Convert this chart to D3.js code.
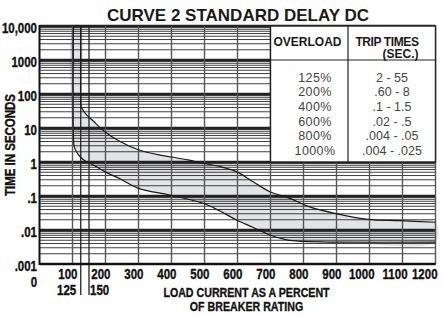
<!DOCTYPE html>
<html>
<head>
<meta charset="utf-8">
<script src="https://cdn.jsdelivr.net/npm/d3@7"></script>
<style>
  body { margin: 0; background: #fff; }
  .cond { font-family: "Liberation Sans", Arial, sans-serif; font-weight: bold; fill: #111; stroke: #111; stroke-width: 0.35px; }
  .title { font-family: "Liberation Sans", Arial, sans-serif; font-weight: bold; font-size: 17px; fill: #1a1a1a; }
  .thead { font-family: "Liberation Sans", Arial, sans-serif; font-weight: bold; font-size: 12px; fill: #1a1a1a; }
  .tval { font-family: "Liberation Sans", Arial, sans-serif; font-size: 12.5px; fill: #444; }
</style>
</head>
<body>
<svg id="chart"></svg>
<script>
// x ticks (load current %), second row labels
const xTicks = [100, 200, 300, 400, 500, 600, 700, 800, 900, 1000, 1100, 1200];
const xExtraTicks = [125, 150];
// y ticks (seconds) and their labels
const yTicks = [10000, 1000, 100, 10, 1, 0.1, 0.01, 0.001];
const yTickLabels = ["10,000", "1000", "100", "10", "1", ".1", ".01", ".001"];

// upper (max trip time) curve: [percent, seconds]
const upperCurve = [
  [125, 10000], [125, 60], [126, 45], [130, 36], [140, 26], [163, 16], [198, 7.8],
  [244, 4], [300, 2.3], [365, 1.6], [400, 1.4], [450, 1.15], [496, 0.92],
  [550, 0.72], [597, 0.52], [648, 0.26], [698, 0.134], [759, 0.085], [819, 0.048],
  [895, 0.031], [996, 0.0205], [1092, 0.0188], [1200, 0.0169]
];
// lower (min trip time) curve
const lowerCurve = [
  [103, 10000], [103, 5], [105, 2.9], [112, 2], [123, 1.43], [140, 1.05], [163, 0.82],
  [198, 0.52], [244, 0.32], [300, 0.168], [395, 0.107], [496, 0.061],
  [547, 0.036], [597, 0.0197], [648, 0.0119], [698, 0.0071], [749, 0.0051],
  [799, 0.0046], [900, 0.0044], [1200, 0.0044]
];

// trip times table
const overloads = ["125%", "200%", "400%", "600%", "800%", "1000%"];
const tripTimes = ["2 - 55", ".60 - 8", ".1 - 1.5", ".02 - .5", ".004 - .05", ".004 - .025"];

const W = 444, H = 315;
const SX = 0.82; // horizontal squeeze for the condensed bold labels

const svg = d3.select("#chart").attr("width", W).attr("height", H);
svg.append("rect").attr("width", W).attr("height", H).attr("fill", "#fff");

const x = d3.scaleLinear().domain([0, 1200]).range([39.5, 435.5]);
const y = d3.scaleLog().domain([0.001, 10000]).range([264, 26]);

function condText(px, py, str, size, anchor, rot) {
  return svg.append("text").attr("class", "cond").attr("font-size", size)
    .attr("text-anchor", anchor)
    .attr("transform", `translate(${px},${py})` + (rot ? ` rotate(${rot})` : "") + ` scale(${SX},1)`)
    .text(str);
}

// band between curves
const band = upperCurve.map(d => [x(d[0]), y(d[1])])
  .concat(lowerCurve.slice().reverse().map(d => [x(d[0]), y(d[1])]));
svg.append("path")
  .attr("d", d3.line().curve(d3.curveCatmullRomClosed.alpha(0.5))(band))
  .attr("fill", "#e3e4e8");

// horizontal grid
const minors = y.ticks().filter(v => !yTicks.some(t => Math.abs(t - v) / t < 1e-6));
svg.append("g").selectAll("line").data(minors).join("line")
  .attr("x1", x(0)).attr("x2", x(1200))
  .attr("y1", d => y(d)).attr("y2", d => y(d))
  .attr("stroke", "#2a2a2a").attr("stroke-width", 0.9);
svg.append("g").selectAll("line").data(yTicks).join("line")
  .attr("x1", x(0)).attr("x2", x(1200))
  .attr("y1", d => y(d)).attr("y2", d => y(d))
  .attr("stroke", "#222").attr("stroke-width", 2.4);

// vertical grid
svg.append("g").selectAll("line").data(xTicks).join("line")
  .attr("x1", d => x(d)).attr("x2", d => x(d))
  .attr("y1", y(10000)).attr("y2", y(0.001))
  .attr("stroke", "#555").attr("stroke-width", 1.4);
svg.append("g").selectAll("line").data(xExtraTicks).join("line")
  .attr("x1", d => x(d)).attr("x2", d => x(d))
  .attr("y1", y(10000)).attr("y2", 295)
  .attr("stroke", "#222").attr("stroke-width", 1.3);

// curves
const line = d3.line().x(d => x(d[0])).y(d => y(d[1])).curve(d3.curveCatmullRom.alpha(0.5));
[upperCurve, lowerCurve].forEach(c => {
  svg.append("path").attr("d", line(c))
    .attr("fill", "none").attr("stroke", "#1a1a1a").attr("stroke-width", 1.2);
});

// axes frame
svg.append("line").attr("x1", x(0)).attr("x2", x(0)).attr("y1", y(10000) - 1).attr("y2", y(0.001) + 1)
  .attr("stroke", "#111").attr("stroke-width", 2);
svg.append("line").attr("x1", x(0)).attr("x2", x(1200)).attr("y1", y(0.001)).attr("y2", y(0.001))
  .attr("stroke", "#111").attr("stroke-width", 2);

// table
const tx0 = x(700), tx1 = x(1200), tmid = 348;
svg.append("rect").attr("x", tx0).attr("y", y(10000)).attr("width", tx1 - tx0).attr("height", y(1) - y(10000))
  .attr("fill", "#fff").attr("stroke", "#222").attr("stroke-width", 1.4);
svg.append("line").attr("x1", tx0).attr("x2", tx1).attr("y1", y(1000)).attr("y2", y(1000))
  .attr("stroke", "#222").attr("stroke-width", 1.2);
svg.append("line").attr("x1", tmid).attr("x2", tmid).attr("y1", y(10000)).attr("y2", y(1))
  .attr("stroke", "#222").attr("stroke-width", 1.2);
svg.append("text").attr("class", "thead").attr("x", 307.5).attr("y", 46).attr("text-anchor", "middle").text("OVERLOAD");
svg.append("text").attr("class", "thead").attr("x", 418.5).attr("y", 45.5).attr("text-anchor", "end")
  .attr("letter-spacing", -0.4).text("TRIP TIMES");
svg.append("text").attr("class", "thead").attr("x", 418.5).attr("y", 57.5).attr("text-anchor", "end").text("(SEC.)");
svg.append("g").selectAll("text").data(overloads).join("text")
  .attr("class", "tval").attr("x", 315).attr("y", (d, i) => 81.5 + i * 14.7)
  .attr("text-anchor", "middle").attr("letter-spacing", 0.4).text(d => d);
svg.append("g").selectAll("text").data(tripTimes).join("text")
  .attr("class", "tval").attr("x", 392).attr("y", (d, i) => 81.5 + i * 14.7)
  .attr("text-anchor", "middle").text(d => d);

// y axis labels
const yAxis = d3.axisLeft(y).tickValues(yTicks).tickFormat((d, i) => yTickLabels[i]).tickSize(0).tickPadding(0);
const yAxisG = svg.append("g").attr("transform", "translate(37,0)").call(yAxis);
yAxisG.select(".domain").remove();
yAxisG.selectAll("text").attr("class", "cond").attr("font-size", 14).attr("font-family", null)
  .attr("x", 0).attr("dy", 6.5).attr("transform", `scale(${SX},1)`);

// x axis labels
const xAxis = d3.axisBottom(x).tickValues(xTicks).tickFormat(d3.format("d")).tickSize(0).tickPadding(0);
const xAxisG = svg.append("g").attr("transform", "translate(0,278.5)").call(xAxis);
xAxisG.select(".domain").remove();
xAxisG.selectAll("text").attr("class", "cond").attr("font-size", 14).attr("font-family", null)
  .attr("y", 0).attr("dy", 0).attr("text-anchor", "end")
  .attr("x", d => Math.min(4.5, 437 - x(d)) / SX)
  .attr("transform", `scale(${SX},1)`);

// second row labels
condText(x(125) - 4.5, 294.5, "125", 14, "end");
condText(x(150) + 1, 294.5, "150", 14, "start");
condText(34, 287, "0", 14, "middle");

// titles
svg.append("text").attr("class", "title").attr("x", 238).attr("y", 20.5).attr("text-anchor", "middle")
  .text("CURVE 2 STANDARD DELAY DC");
condText(15, 145, "TIME IN SECONDS", 14, "middle", -90);
condText(246.5, 297, "LOAD CURRENT AS A PERCENT", 13, "middle");
condText(246.5, 310.5, "OF BREAKER RATING", 13, "middle");
</script>
</body>
</html>
